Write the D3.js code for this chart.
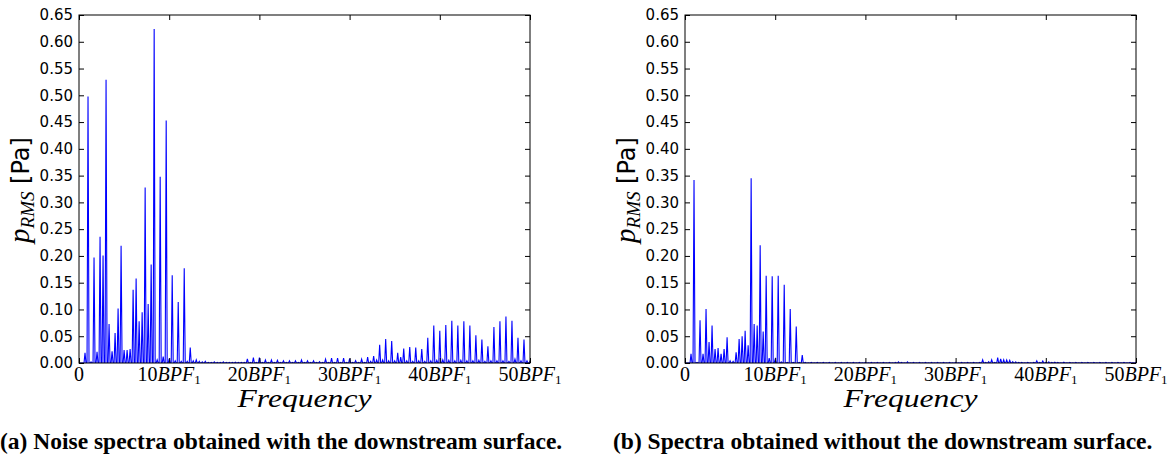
<!DOCTYPE html>
<html>
<head>
<meta charset="utf-8">
<script src="https://cdn.jsdelivr.net/npm/d3@7"></script>
<style>
  html, body { margin: 0; padding: 0; background: #fff; }
  svg { display: block; }
</style>
</head>
<body>
<div class="canvas"></div>
<script>
// spectrum bins are spaced BPF1/3 apart: index i -> i/3 BPF1
const binsPerBPF = 3;

// (a) with downstream surface, p_RMS [Pa] per bin
const withSurface = [
  0, 0, 0.019, 0.498, 0.002, 0.197, 0.021, 0.236, 0.201, 0.529,
  0.073, 0.022, 0.056, 0.102, 0.219, 0.024, 0.024, 0.026, 0.137, 0.158,
  0.078, 0.095, 0.328, 0.110, 0.184, 0.624, 0.006, 0.348, 0.012, 0.453,
  0.008, 0.164, 0.004, 0.114, 0.003, 0.177, 0.003, 0.029, 0.004, 0.006,
  0.003, 0.002, 0.003, 0.001, 0.001, 0.002, 0.001, 0.001, 0.002, 0.001,
  0.001, 0.001, 0.0015, 0.001, 0.001, 0.001, 0.0075, 0.001, 0.010, 0.001,
  0.010, 0.001, 0.0056, 0.001, 0.0056, 0.001, 0.005, 0.001, 0.004, 0.001,
  0.004, 0.001, 0.004, 0.001, 0.0056, 0.001, 0.004, 0.001, 0.004, 0.001,
  0.0025, 0.001, 0.007, 0.001, 0.009, 0.001, 0.009, 0.001, 0.009, 0.001,
  0.008, 0.001, 0.0045, 0.001, 0.007, 0.001, 0.011, 0.003, 0.013, 0.0056,
  0.034, 0.0056, 0.045, 0.004, 0.041, 0.004, 0.019, 0.011, 0.027, 0.004,
  0.030, 0.003, 0.029, 0.004, 0.026, 0.003, 0.047, 0.004, 0.070, 0.005,
  0.060, 0.006, 0.071, 0.005, 0.079, 0.004, 0.070, 0.005, 0.078, 0.004,
  0.070, 0.004, 0.052, 0.005, 0.044, 0.003, 0.031, 0.004, 0.067, 0.004,
  0.078, 0.004, 0.087, 0.003, 0.079, 0.007, 0.047, 0.004, 0.044, 0.004,
  0.003
];

// (b) without downstream surface
const withoutSurface = [
  0, 0, 0.017, 0.342, 0.001, 0.080, 0.017, 0.101, 0.039, 0.070,
  0.026, 0.028, 0.017, 0.026, 0.048, 0.004, 0.003, 0.020, 0.045, 0.050,
  0.060, 0.033, 0.345, 0.073, 0.070, 0.220, 0.059, 0.163, 0.009, 0.162,
  0.007, 0.163, 0.002, 0.146, 0.001, 0.101, 0.001, 0.068, 0.001, 0.015,
  0.001, 0.0005, 0.001, 0.0005, 0.001, 0.0005, 0.001, 0.0005, 0.001, 0.0005,
  0.001, 0.0005, 0.001, 0.0005, 0.001, 0.0005, 0.001, 0.0005, 0.001, 0.0005,
  0.001, 0.0005, 0.001, 0.0005, 0.001, 0.0005, 0.001, 0.0005, 0.001, 0.0005,
  0.001, 0.002, 0.001, 0.0005, 0.002, 0.0005, 0.001, 0.0005, 0.001, 0.0005,
  0.001, 0.0005, 0.001, 0.0005, 0.001, 0.0005, 0.001, 0.0005, 0.001, 0.0005,
  0.001, 0.0005, 0.001, 0.0005, 0.001, 0.0005, 0.001, 0.0005, 0.001, 0.006,
  0.001, 0.0025, 0.006, 0.001, 0.010, 0.0075, 0.006, 0.0056, 0.005, 0.0025,
  0.002, 0.001, 0.001, 0.0005, 0.001, 0.0005, 0.001, 0.004, 0.001, 0.0037,
  0.001, 0.002, 0.001, 0.0015, 0.001, 0.0005, 0.0015, 0.0005, 0.001, 0.0005,
  0.001, 0.0005, 0.001, 0.0005, 0.001, 0.0005, 0.001, 0.0005, 0.001, 0.0005,
  0.001, 0.0005, 0.001, 0.0005, 0.001, 0.0005, 0.001, 0.0005, 0.001, 0.0005,
  0.001
];

const xTicks = [0, 10, 20, 30, 40, 50];
const yTicks = [0, 0.05, 0.10, 0.15, 0.20, 0.25, 0.30, 0.35, 0.40, 0.45, 0.50, 0.55, 0.60, 0.65];

const captions = [
  '(a) Noise spectra obtained with the downstream surface.',
  '(b) Spectra obtained without the downstream surface.'
];

// layout
const dims = { width: 1168, height: 463 };
const plotTop = 15, plotBottom = 363, plotWidth = 451;
const panels = [
  { values: withSurface, left: 79, caption: captions[0], capX: 0 },
  { values: withoutSurface, left: 685, caption: captions[1], capX: 613 }
];

const svg = d3.select('.canvas')
  .append('svg')
    .attr('width', dims.width)
    .attr('height', dims.height);

const y = d3.scaleLinear()
  .domain([0, 0.65])
  .range([plotBottom, plotTop]);

// half-width of each spectral peak, in BPF1
const peakHalf = 0.11;

panels.forEach((p, pi) => {
  const x = d3.scaleLinear()
    .domain([0, 50])
    .range([p.left, p.left + plotWidth]);

  const g = svg.append('g');

  svg.append('clipPath')
      .attr('id', `clip${pi}`)
    .append('rect')
      .attr('x', p.left)
      .attr('y', plotTop)
      .attr('width', plotWidth)
      .attr('height', plotBottom - plotTop);

  // spectrum line: each bin is a narrow peak rising from the floor
  const pts = [];
  p.values.forEach((v, i) => {
    const f = i / binsPerBPF;
    pts.push([f - peakHalf, 0], [f, v], [f + peakHalf, 0]);
  });

  const line = d3.line()
    .x(d => x(d[0]))
    .y(d => y(d[1]));

  g.append('path')
    .datum(pts)
    .attr('clip-path', `url(#clip${pi})`)
    .attr('fill', 'none')
    .attr('stroke', '#0000ff')
    .attr('stroke-width', 1.1)
    .attr('d', line);

  // ticks (inward, on all four sides)
  const tickLen = 5;
  g.append('g')
    .attr('transform', `translate(0, ${plotBottom})`)
    .call(d3.axisBottom(x).tickValues(xTicks).tickSize(-tickLen).tickFormat(''))
    .call(a => a.select('.domain').remove());
  g.append('g')
    .attr('transform', `translate(0, ${plotTop})`)
    .call(d3.axisTop(x).tickValues(xTicks).tickSize(-tickLen).tickFormat(''))
    .call(a => a.select('.domain').remove());
  g.append('g')
    .attr('transform', `translate(${p.left}, 0)`)
    .call(d3.axisLeft(y).tickValues(yTicks).tickSize(-tickLen).tickPadding(6).tickFormat(d3.format('.2f')))
    .call(a => a.select('.domain').remove())
    .call(a => a.selectAll('text')
      .attr('font-family', 'DejaVu Sans')
      .attr('font-size', 15)
      .attr('fill', '#000'));
  g.append('g')
    .attr('transform', `translate(${p.left + plotWidth}, 0)`)
    .call(d3.axisRight(y).tickValues(yTicks).tickSize(-tickLen).tickFormat(''))
    .call(a => a.select('.domain').remove());

  // frame
  g.append('rect')
    .attr('x', p.left)
    .attr('y', plotTop)
    .attr('width', plotWidth)
    .attr('height', plotBottom - plotTop)
    .attr('fill', 'none')
    .attr('stroke', '#000')
    .attr('stroke-width', 1);

  // x tick labels, e.g. 10BPF_1
  const xl = g.append('g')
    .attr('font-family', 'Liberation Serif')
    .attr('font-size', 20);
  xTicks.forEach(t => {
    const txt = xl.append('text')
      .attr('x', x(t))
      .attr('y', 381)
      .attr('text-anchor', 'middle');
    if (t === 0) {
      txt.text('0');
    } else {
      txt.append('tspan').text(t);
      txt.append('tspan').attr('font-style', 'italic').text('BPF');
      txt.append('tspan').attr('font-size', 13).attr('dy', 3).text('1');
    }
  });

  // x axis title
  g.append('text')
    .attr('x', p.left + plotWidth / 2)
    .attr('y', 407)
    .attr('text-anchor', 'middle')
    .attr('font-family', 'Liberation Serif')
    .attr('font-style', 'italic')
    .attr('font-size', 25)
    .attr('textLength', 134)
    .attr('lengthAdjust', 'spacingAndGlyphs')
    .text('Frequency');

  // y axis title
  const yl = g.append('text')
    .attr('transform', `translate(${p.left - 50}, ${(plotTop + plotBottom) / 2 + 1}) rotate(-90)`)
    .attr('text-anchor', 'middle');
  yl.append('tspan')
    .attr('font-family', 'Liberation Serif')
    .attr('font-style', 'italic')
    .attr('font-size', 29)
    .text('p');
  yl.append('tspan')
    .attr('font-family', 'Liberation Serif')
    .attr('font-style', 'italic')
    .attr('font-size', 19)
    .attr('dy', 5)
    .text('RMS');
  yl.append('tspan')
    .attr('font-family', 'DejaVu Sans')
    .attr('font-size', 24)
    .attr('dy', -5)
    .text('\u00a0[Pa]');

  // caption
  svg.append('text')
    .attr('x', p.capX)
    .attr('y', 449)
    .attr('font-family', 'Liberation Serif')
    .attr('font-weight', 'bold')
    .attr('font-size', 23.5)
    .text(p.caption);
});
</script>
</body>
</html>
